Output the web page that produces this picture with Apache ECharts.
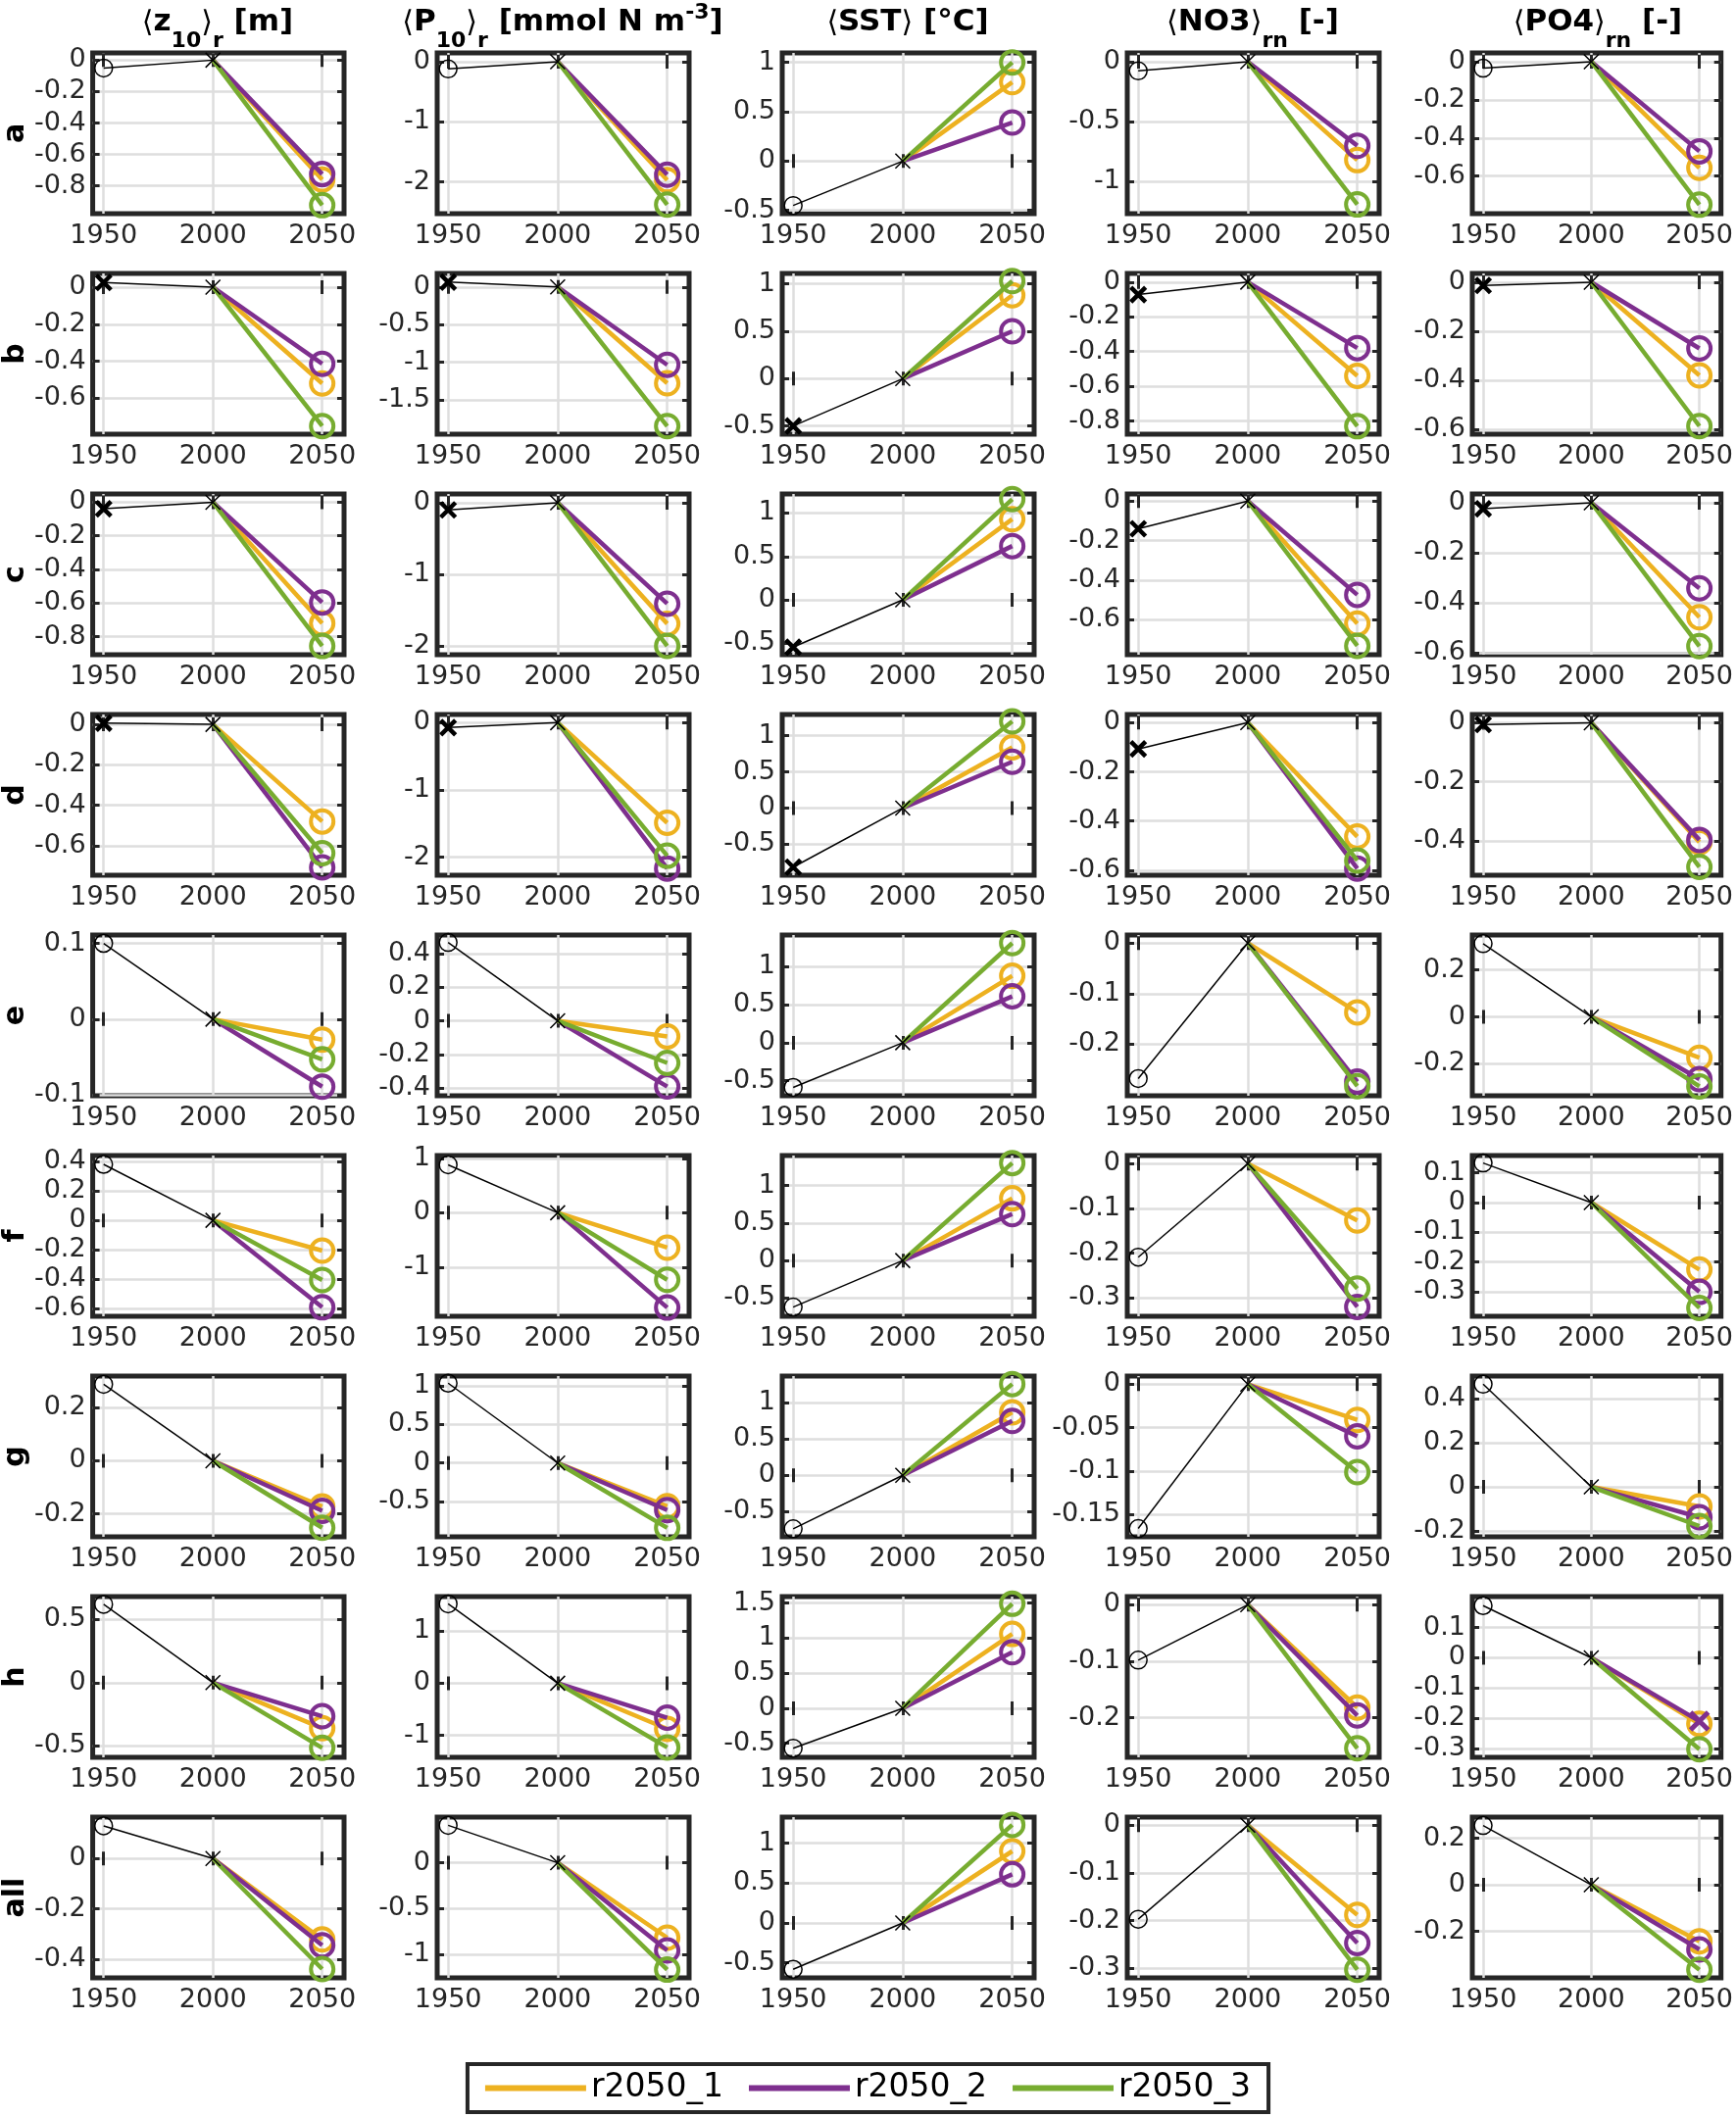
<!DOCTYPE html>
<html>
<head>
<meta charset="utf-8">
<script src="https://cdn.jsdelivr.net/npm/echarts@6/dist/echarts.min.js"></script>
<style>
html, body { margin: 0; padding: 0; background: #fff; }
#chart { width: 1771px; height: 2161px; }
</style>
</head>
<body>
<div id="chart"></div>
<script>
// x positions of the three periods
var YEARS = [1950, 2000, 2050];
var ROW_LABELS = ["a", "b", "c", "d", "e", "f", "g", "h", "all"];
var COL_TITLES = [
    "{a|⟨}{m|z}{s|10}{a|⟩}{s|r}{m| [m]}",
    "{a|⟨}{m|P}{s|10}{a|⟩}{s|r}{m| [mmol N m}{p|-3}{m|]}",
    "{a|⟨}{m|SST}{a|⟩}{m| [°C]}",
    "{a|⟨}{m|NO3}{a|⟩}{s|rn}{m| [-]}",
    "{a|⟨}{m|PO4}{a|⟩}{s|rn}{m| [-]}"
];
var RUN_NAMES = ["r2050_1", "r2050_2", "r2050_3"];
var RUN_COLORS = ["#EDB120", "#7E2F8E", "#77AC30"];

// marker used for the 1950 point of each row (o = open circle, x = bold cross)
var HIST_MARKER = ["o", "x", "x", "x", "o", "o", "o", "o", "o"];
// [row, column, run] drawn with a cross instead of a circle in 2050
var CROSS_2050 = [[7, 4, 1]];

// rows a..all, columns z10, P10, SST, NO3, PO4 (2000 is the reference = 0)
var HIST_1950 = [
    [-0.05, -0.12, -0.45, -0.076, -0.034],
    [0.025, 0.065, -0.5, -0.072, -0.013],
    [-0.039, -0.10, -0.545, -0.14, -0.024],
    [0.006, -0.073, -0.818, -0.107, -0.006],
    [0.1, 0.466, -0.587, -0.268, 0.312],
    [0.38, 0.88, -0.62, -0.209, 0.133],
    [0.288, 1.035, -0.74, -0.166, 0.467],
    [0.619, 1.52, -0.57, -0.098, 0.173],
    [0.13, 0.41, -0.58, -0.197, 0.255]
];
var R2050_1 = [
    [-0.76, -1.97, 0.8, -0.82, -0.557],
    [-0.52, -1.28, 0.88, -0.54, -0.38],
    [-0.72, -1.69, 0.93, -0.62, -0.457],
    [-0.48, -1.49, 0.84, -0.463, -0.405],
    [-0.027, -0.093, 0.88, -0.137, -0.174],
    [-0.205, -0.64, 0.83, -0.127, -0.225],
    [-0.172, -0.56, 0.87, -0.041, -0.089],
    [-0.36, -0.875, 1.06, -0.182, -0.219],
    [-0.322, -0.82, 0.9, -0.188, -0.243]
];
var R2050_2 = [
    [-0.725, -1.88, 0.39, -0.70, -0.47],
    [-0.414, -1.035, 0.5, -0.38, -0.27],
    [-0.596, -1.41, 0.62, -0.474, -0.342],
    [-0.707, -2.17, 0.64, -0.593, -0.397],
    [-0.089, -0.39, 0.61, -0.274, -0.265],
    [-0.59, -1.74, 0.62, -0.32, -0.30],
    [-0.188, -0.61, 0.75, -0.06, -0.138],
    [-0.265, -0.66, 0.80, -0.196, -0.21],
    [-0.345, -0.96, 0.61, -0.247, -0.278]
];
var R2050_3 = [
    [-0.923, -2.38, 1.0, -1.19, -0.75],
    [-0.75, -1.85, 1.03, -0.83, -0.587],
    [-0.855, -2.0, 1.16, -0.732, -0.573],
    [-0.637, -1.98, 1.2, -0.56, -0.489],
    [-0.053, -0.25, 1.31, -0.283, -0.296],
    [-0.405, -1.23, 1.30, -0.279, -0.354],
    [-0.252, -0.84, 1.26, -0.101, -0.178],
    [-0.515, -1.23, 1.49, -0.254, -0.303],
    [-0.44, -1.17, 1.23, -0.303, -0.365]
];

// y limits of every panel
var Y_MIN = [
    [-0.977, -2.53, -0.533, -1.267, -0.797],
    [-0.794, -1.957, -0.586, -0.876, -0.62],
    [-0.907, -2.123, -0.632, -0.777, -0.607],
    [-0.746, -2.27, -0.93, -0.62, -0.517],
    [-0.101, -0.445, -0.697, -0.302, -0.336],
    [-0.651, -1.9, -0.743, -0.341, -0.382],
    [-0.286, -0.956, -0.85, -0.1755, -0.227],
    [-0.59, -1.42, -0.7, -0.27, -0.33],
    [-0.475, -1.26, -0.688, -0.32, -0.4]
];
var Y_MAX = [
    [0.046, 0.147, 1.096, 0.074, 0.046],
    [0.074, 0.18, 1.11, 0.05, 0.036],
    [0.049, 0.123, 1.22, 0.036, 0.035],
    [0.049, 0.122, 1.295, 0.033, 0.028],
    [0.111, 0.51, 1.416, 0.016, 0.349],
    [0.44, 1.05, 1.4, 0.018, 0.158],
    [0.319, 1.127, 1.37, 0.0094, 0.504],
    [0.68, 1.66, 1.593, 0.0144, 0.203],
    [0.165, 0.5, 1.327, 0.017, 0.291]
];
var Y_TICKS = [
    [[0, -0.2, -0.4, -0.6, -0.8], [0, -1, -2], [1, 0.5, 0, -0.5], [0, -0.5, -1], [0, -0.2, -0.4, -0.6]],
    [[0, -0.2, -0.4, -0.6], [0, -0.5, -1, -1.5], [1, 0.5, 0, -0.5], [0, -0.2, -0.4, -0.6, -0.8], [0, -0.2, -0.4, -0.6]],
    [[0, -0.2, -0.4, -0.6, -0.8], [0, -1, -2], [1, 0.5, 0, -0.5], [0, -0.2, -0.4, -0.6], [0, -0.2, -0.4, -0.6]],
    [[0, -0.2, -0.4, -0.6], [0, -1, -2], [1, 0.5, 0, -0.5], [0, -0.2, -0.4, -0.6], [0, -0.2, -0.4]],
    [[0.1, 0, -0.1], [0.4, 0.2, 0, -0.2, -0.4], [1, 0.5, 0, -0.5], [0, -0.1, -0.2], [0.2, 0, -0.2]],
    [[0.4, 0.2, 0, -0.2, -0.4, -0.6], [1, 0, -1], [1, 0.5, 0, -0.5], [0, -0.1, -0.2, -0.3], [0.1, 0, -0.1, -0.2, -0.3]],
    [[0.2, 0, -0.2], [1, 0.5, 0, -0.5], [1, 0.5, 0, -0.5], [0, -0.05, -0.1, -0.15], [0.4, 0.2, 0, -0.2]],
    [[0.5, 0, -0.5], [1, 0, -1], [1.5, 1, 0.5, 0, -0.5], [0, -0.1, -0.2], [0.1, 0, -0.1, -0.2, -0.3]],
    [[0, -0.2, -0.4], [0, -0.5, -1], [1, 0.5, 0, -0.5], [0, -0.1, -0.2, -0.3], [0.2, 0, -0.2]]
];

var RUNS = [R2050_1, R2050_2, R2050_3];
var FONT = "DejaVu Sans";
var AX = "#262626";
var GRID_LINE = "#dedede";
var CROSS = "path://M0,0L10,10M0,10L10,0";

function is_cross(r, c, k) {
    for (var i = 0; i < CROSS_2050.length; i++) {
        if (CROSS_2050[i][0] == r && CROSS_2050[i][1] == c && CROSS_2050[i][2] == k) return true;
    }
    return false;
}

function plain_number(v) {
    return String(v);
}

var grids = [], xAxes = [], yAxes = [], series = [], titles = [];

for (var c = 0; c < 5; c++) {
    titles.push({
        text: COL_TITLES[c],
        left: 94 + 352 * c + 128,
        top: 2,
        padding: 0,
        textAlign: "center",
        textStyle: {
            rich: {
                m: {fontFamily: FONT, fontWeight: "bold", fontSize: 31, color: "#000", lineHeight: 56, verticalAlign: "top", padding: [5, 0, 0, 0]},
                a: {fontFamily: FONT, fontWeight: "normal", fontSize: 30, color: "#000", lineHeight: 56, verticalAlign: "top", padding: [7, 0, 0, 0]},
                s: {fontFamily: FONT, fontWeight: "bold", fontSize: 22, color: "#000", lineHeight: 28, verticalAlign: "bottom", padding: [0, 0, 5, 0]},
                p: {fontFamily: FONT, fontWeight: "bold", fontSize: 22, color: "#000", lineHeight: 22, verticalAlign: "top"}
            }
        }
    });
}

for (var r = 0; r < 9; r++) {
    for (c = 0; c < 5; c++) {
        var g = r * 5 + c;
        grids.push({
            left: 94 + 352 * c, top: 54 + 225 * r, width: 257, height: 164,
            show: true, borderColor: AX, borderWidth: 5, backgroundColor: "transparent"
        });
        // bottom / top x axes
        xAxes.push({
            gridIndex: g, type: "value", min: 1945, max: 2060, position: "bottom",
            axisLine: {show: false},
            axisTick: {show: true, inside: true, length: 7, customValues: YEARS, lineStyle: {color: AX, width: 3}},
            axisLabel: {show: true, customValues: YEARS, formatter: plain_number, margin: 9, color: AX, fontSize: 27, fontFamily: FONT},
            splitLine: {show: true, lineStyle: {color: GRID_LINE, width: 2.5}}
        });
        xAxes.push({
            gridIndex: g, type: "value", min: 1945, max: 2060, position: "top",
            axisLine: {show: false},
            axisTick: {show: true, inside: true, length: 7, customValues: YEARS, lineStyle: {color: AX, width: 3}},
            axisLabel: {show: false},
            splitLine: {show: false}
        });
        var ticks = Y_TICKS[r][c];
        yAxes.push({
            gridIndex: g, type: "value", min: Y_MIN[r][c], max: Y_MAX[r][c], position: "left",
            axisLine: {show: false},
            axisTick: {show: true, inside: true, length: 7, customValues: ticks, lineStyle: {color: AX, width: 3}},
            axisLabel: {show: true, customValues: ticks, formatter: plain_number, margin: 7, color: AX, fontSize: 27, fontFamily: FONT},
            splitLine: {show: true, lineStyle: {color: GRID_LINE, width: 2.5}},
            name: c == 0 ? ROW_LABELS[r] : "",
            nameLocation: "middle",
            nameGap: 62,
            nameTextStyle: {fontFamily: FONT, fontWeight: "bold", fontSize: 30, color: "#000"}
        });
        yAxes.push({
            gridIndex: g, type: "value", min: Y_MIN[r][c], max: Y_MAX[r][c], position: "right",
            axisLine: {show: false},
            axisTick: {show: true, inside: true, length: 7, customValues: ticks, lineStyle: {color: AX, width: 3}},
            axisLabel: {show: false},
            splitLine: {show: false}
        });

        // historical segment 1950 -> 2000
        var first;
        if (HIST_MARKER[r] == "x") {
            first = {value: [YEARS[0], HIST_1950[r][c]], symbol: CROSS, symbolSize: 15,
                itemStyle: {color: "transparent", borderColor: "#000", borderWidth: 4.5}};
        } else {
            first = {value: [YEARS[0], HIST_1950[r][c]], symbol: "circle", symbolSize: 18,
                itemStyle: {color: "transparent", borderColor: "#000", borderWidth: 1.5}};
        }
        series.push({
            type: "line", xAxisIndex: 2 * g, yAxisIndex: 2 * g, z: 6, silent: true,
            lineStyle: {color: "#000", width: 1.5}, itemStyle: {color: "#000"},
            data: [first, {value: [YEARS[1], 0], symbol: CROSS, symbolSize: 15,
                itemStyle: {color: "transparent", borderColor: "#000", borderWidth: 1.5}}]
        });

        // scenario runs 2000 -> 2050
        for (var k = 0; k < 3; k++) {
            var last;
            if (is_cross(r, c, k)) {
                last = {value: [YEARS[2], RUNS[k][r][c]], symbol: CROSS, symbolSize: 18,
                    itemStyle: {color: "transparent", borderColor: RUN_COLORS[k], borderWidth: 5}};
            } else {
                last = {value: [YEARS[2], RUNS[k][r][c]], symbol: "circle", symbolSize: 23,
                    itemStyle: {color: "transparent", borderColor: RUN_COLORS[k], borderWidth: 4}};
            }
            series.push({
                type: "line", name: RUN_NAMES[k], xAxisIndex: 2 * g, yAxisIndex: 2 * g, z: 3 + k, silent: true,
                lineStyle: {color: RUN_COLORS[k], width: 4.5}, itemStyle: {color: RUN_COLORS[k]},
                data: [{value: [YEARS[1], 0], symbol: "none"}, last]
            });
        }
    }
}

var chart = echarts.init(document.getElementById("chart"), null, {renderer: "canvas"});
chart.setOption({
    animation: false,
    backgroundColor: "#fff",
    textStyle: {fontFamily: FONT},
    title: titles,
    grid: grids,
    xAxis: xAxes,
    yAxis: yAxes,
    legend: {
        data: RUN_NAMES, left: "center", top: 2106,
        icon: "rect", itemWidth: 103, itemHeight: 6, itemGap: 26,
        padding: [8, 18], borderColor: AX, borderWidth: 4, backgroundColor: "#fff",
        textStyle: {fontFamily: FONT, fontSize: 33, color: "#000"}
    },
    series: series
});
</script>
</body>
</html>
